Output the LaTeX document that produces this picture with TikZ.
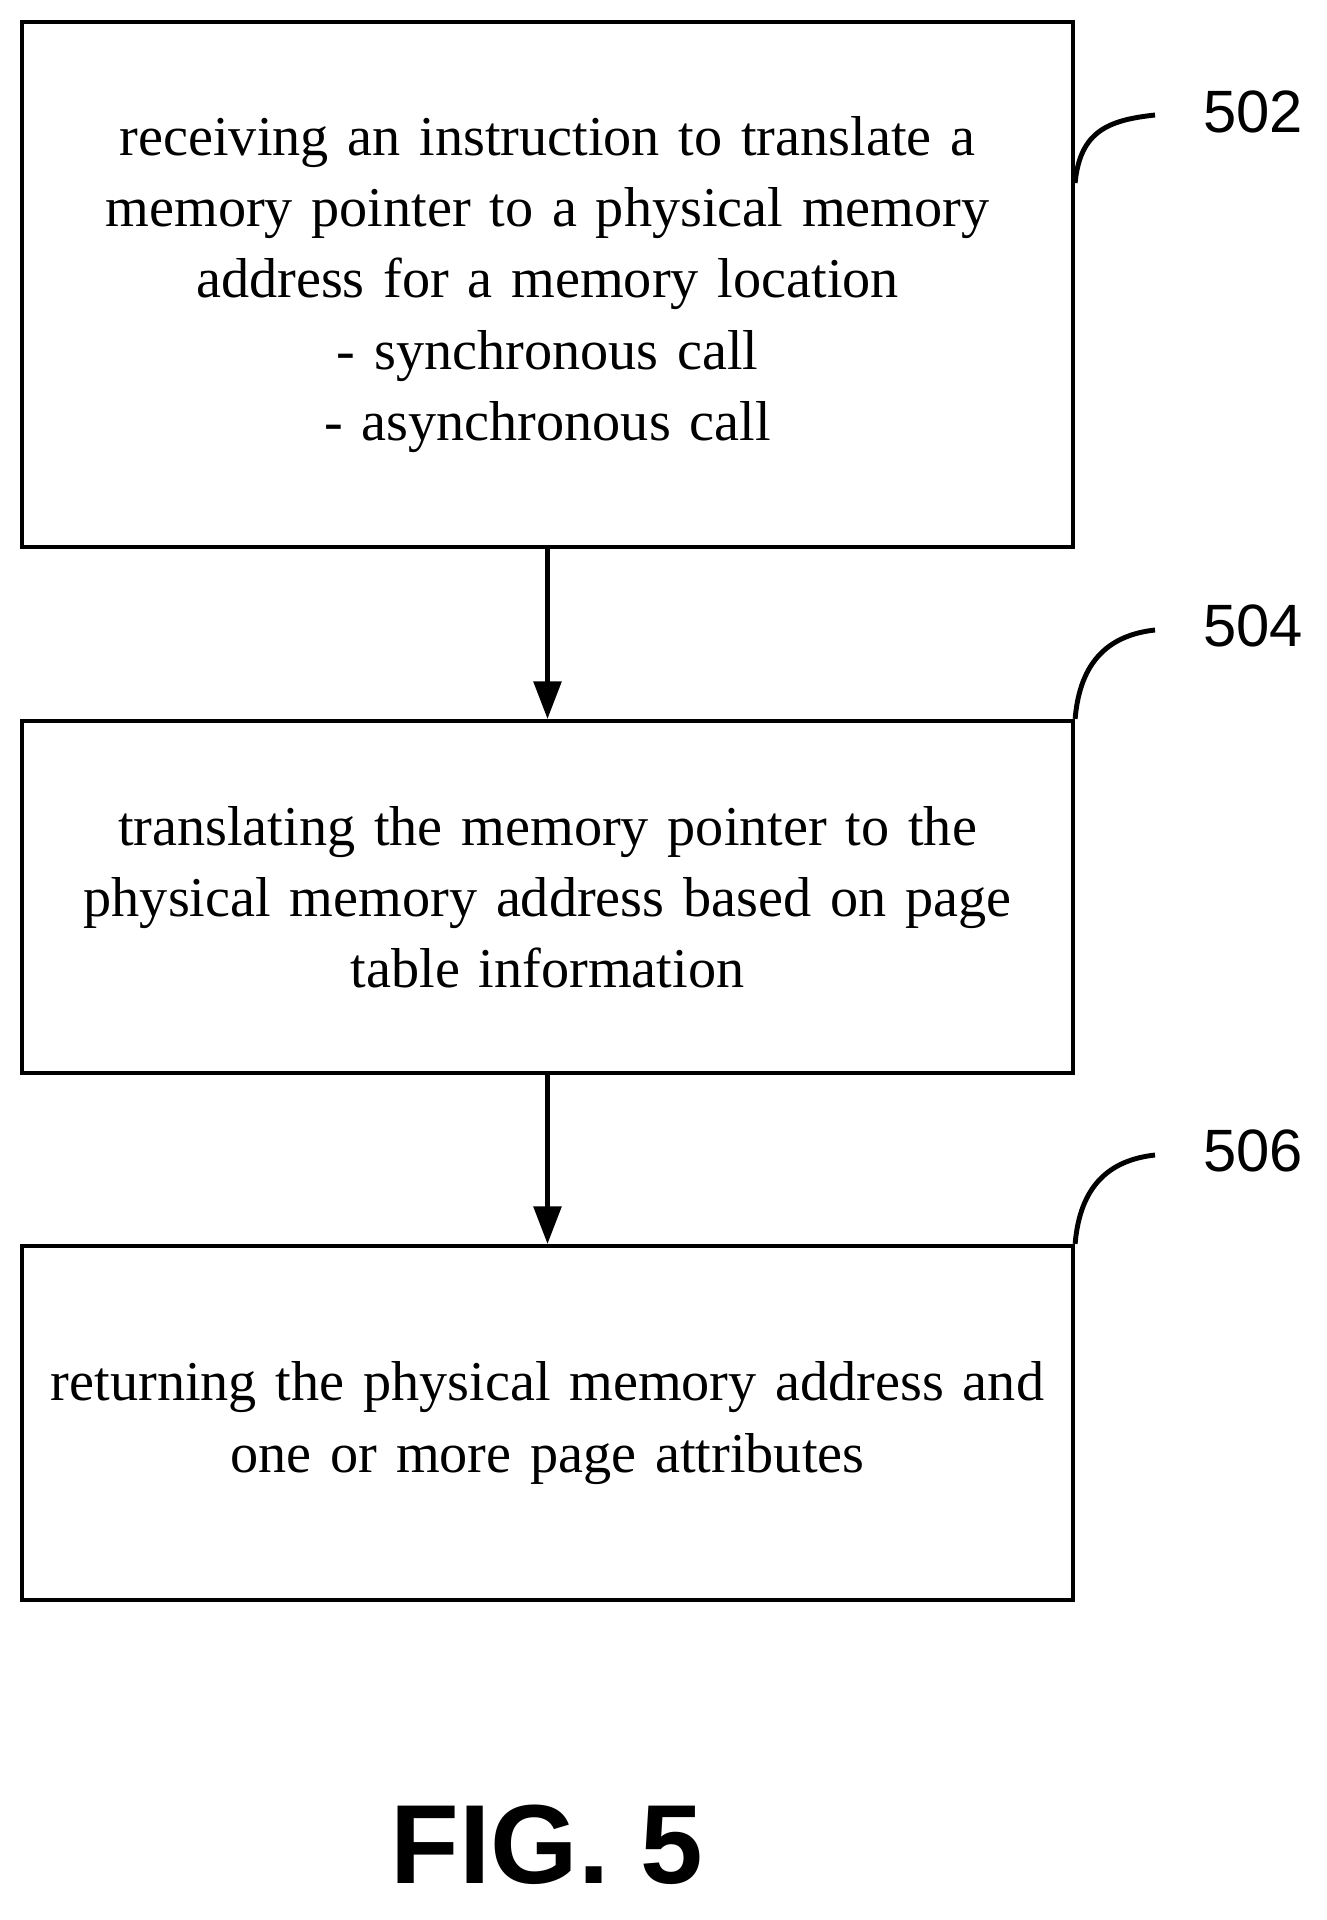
\documentclass[tikz,border=0pt]{standalone}
\usepackage{fontspec}
\setmainfont{Liberation Serif}
\setsansfont{Liberation Sans}
\usetikzlibrary{arrows.meta,positioning}

\begin{document}
\begin{tikzpicture}[>={Triangle[length=0.75cm,width=0.55cm]},line width=2.4pt,
	stepbox/.style={draw,minimum width=21.02cm,text width=20.6cm,align=center,
		font=\fontsize{32}{40.5}\selectfont,inner sep=0pt},
	refnum/.style={font=\sffamily\fontsize{34}{40}\selectfont},
	lead/.style={line width=2.8pt}]
	\useasboundingbox (0,0) rectangle (26.52,-38.4);
	
	\node[stepbox,minimum height=10.5cm] (S1) at (10.95,-5.69)
	{receiving an instruction to translate a\\memory pointer to a physical memory\\address for a memory location\\- synchronous call\\- asynchronous call};
	\node[stepbox,minimum height=7.04cm] (S2) at (10.95,-17.94)
	{translating the memory pointer to the\\physical memory address based on page\\table information};
	\node[stepbox,minimum height=7.08cm] (S3) at (10.95,-28.46)
	{returning the physical memory address and\\one or more page attributes};
	
	\node[refnum] (L1) at (25.06,-2.24) {502};
	\node[refnum] (L2) at (25.06,-12.52) {504};
	\node[refnum] (L3) at (25.06,-23.02) {506};
	
	\coordinate (C1) at (S1.north east |- 0,-3.66);
	\draw[lead] (C1) .. controls (21.6,-2.6) and (22.2,-2.4) .. (23.1,-2.3);
	\draw[lead] (S2.north east) .. controls (21.6,-13.2) and (22.2,-12.7) .. (23.1,-12.6);
	\draw[lead] (S3.north east) .. controls (21.6,-23.7) and (22.2,-23.2) .. (23.1,-23.1);
	
	\draw[->] (S1) -- (S2);
	\draw[->] (S2) -- (S3);
	
	\node[font=\sffamily\bfseries\fontsize{64}{70}\selectfont] (fig) at (10.94,-36.9) {FIG. 5};
\end{tikzpicture}
\end{document}
